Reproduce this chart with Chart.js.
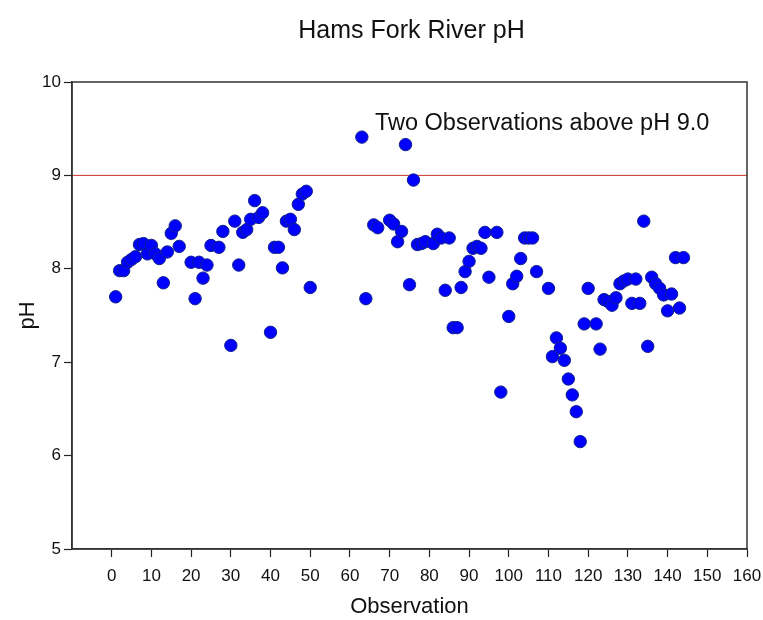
<!DOCTYPE html>
<html>
<head>
<meta charset="utf-8">
<script src="https://cdn.jsdelivr.net/npm/chart.js@4/dist/chart.umd.min.js"></script>
<style>
  html, body { margin: 0; padding: 0; background: #fff; }
  #wrap { width: 763px; height: 620px; }
</style>
</head>
<body>
<div id="wrap"><canvas id="chart"></canvas></div>
<script>
const observations = [
  1, 2, 3, 4, 5, 6, 7, 8, 9, 10, 11, 12, 13, 14, 15, 16, 17,
  20, 21, 22, 23, 24, 25, 27, 28, 30, 31, 32, 33, 34, 35, 36, 37, 38,
  40, 41, 42, 43, 44, 45, 46, 47, 48, 49, 50,
  63, 64, 66, 67, 70, 71, 72, 73, 74, 75, 76, 77, 78, 79, 81, 82, 83, 84, 85,
  86, 87, 88, 89, 90, 91, 92, 93, 94, 95, 97, 98, 100, 101, 102, 103, 104, 105,
  106, 107, 110, 111, 112, 113, 114, 115, 116, 117, 118, 119, 120, 122, 123,
  124, 125, 126, 127, 128, 129, 130, 131, 132, 133, 134, 135, 136, 137, 138,
  139, 140, 141, 142, 143, 144
];
const phValues = [
  7.70, 7.98, 7.98, 8.07, 8.10, 8.13, 8.26, 8.27, 8.16, 8.25, 8.16, 8.11, 7.85, 8.18, 8.38, 8.46, 8.24,
  8.07, 7.68, 8.07, 7.90, 8.04, 8.25, 8.23, 8.40, 7.18, 8.51, 8.04, 8.39, 8.42, 8.53, 8.73, 8.55, 8.60,
  7.32, 8.23, 8.23, 8.01, 8.51, 8.53, 8.42, 8.69, 8.80, 8.83, 7.80,
  9.41, 7.68, 8.47, 8.44, 8.52, 8.48, 8.29, 8.40, 9.33, 7.83, 8.95, 8.26, 8.27, 8.29, 8.27, 8.37, 8.33, 7.77, 8.33,
  7.37, 7.37, 7.80, 7.97, 8.08, 8.22, 8.24, 8.22, 8.39, 7.91, 8.39, 6.68, 7.49, 7.84, 7.92, 8.11, 8.33, 8.33,
  8.33, 7.97, 7.79, 7.06, 7.26, 7.15, 7.02, 6.82, 6.65, 6.47, 6.15, 7.41, 7.79, 7.41, 7.14,
  7.67, 7.65, 7.61, 7.69, 7.84, 7.87, 7.89, 7.63, 7.89, 7.63, 8.51, 7.17, 7.91, 7.84, 7.79,
  7.72, 7.55, 7.73, 8.12, 7.58, 8.12
];
const limitX = [-10, 160];
const limitPH = 9.0;
const xTicks = [0, 10, 20, 30, 40, 50, 60, 70, 80, 90, 100, 110, 120, 130, 140, 150, 160];
const yTicks = [5, 6, 7, 8, 9, 10];
const chartTitle = 'Hams Fork River pH';
const noteText = 'Two Observations above pH 9.0';
const notePos = { x: 66.3, y: 9.56 };

const FONT = "'Liberation Sans', Arial, sans-serif";

const points = observations.map((o, i) => ({ x: o, y: phValues[i] }));

// frame round the plot, chart title and the note
const extras = {
  id: 'extras',
  afterDraw(chart) {
    const { ctx, chartArea: a, scales } = chart;
    ctx.save();
    ctx.strokeStyle = '#333';
    ctx.lineWidth = 1.5;
    ctx.strokeRect(a.left, a.top, a.right - a.left, a.bottom - a.top);
    ctx.fillStyle = '#111';
    ctx.textBaseline = 'middle';
    ctx.textAlign = 'center';
    ctx.font = '25px ' + FONT;
    ctx.fillText(chartTitle, (a.left + a.right) / 2 + 2, 31);
    ctx.textAlign = 'left';
    ctx.font = '23.5px ' + FONT;
    ctx.fillText(noteText, scales.x.getPixelForValue(notePos.x), scales.y.getPixelForValue(notePos.y));
    ctx.restore();
  }
};

new Chart(document.getElementById('chart'), {
  type: 'scatter',
  data: {
    datasets: [
      {
        label: 'pH',
        data: points,
        backgroundColor: '#0000ff',
        borderColor: '#10208a',
        borderWidth: 1,
        pointRadius: 6.2,
        pointHoverRadius: 6.2
      },
      {
        type: 'line',
        label: 'limit',
        data: limitX.map(x => ({ x: x, y: limitPH })),
        borderColor: '#cc3333',
        borderWidth: 1,
        pointRadius: 0,
        fill: false
      }
    ]
  },
  options: {
    responsive: true,
    maintainAspectRatio: false,
    animation: false,
    layout: { padding: { top: 82, right: 16, left: 0, bottom: 0 } },
    plugins: {
      legend: { display: false },
      tooltip: { enabled: false }
    },
    scales: {
      x: {
        type: 'linear',
        min: limitX[0],
        max: limitX[1],
        afterBuildTicks: s => { s.ticks = xTicks.map(v => ({ value: v })); },
        afterFit: s => { s.height = 71; s.paddingLeft = 0; s.paddingRight = 0; },
        grid: { drawOnChartArea: false, tickLength: 8, color: '#222', tickWidth: 1.2 },
        border: { color: '#333', width: 1.5 },
        ticks: { color: '#111', font: { family: FONT, size: 17 }, padding: 9, maxRotation: 0 },
        title: { display: true, text: 'Observation', color: '#111', font: { family: FONT, size: 22 }, padding: { top: 0, bottom: 0 } }
      },
      y: {
        min: 5,
        max: 10,
        afterBuildTicks: s => { s.ticks = yTicks.map(v => ({ value: v })); },
        afterFit: s => { s.width = 72; s.paddingTop = 0; s.paddingBottom = 0; },
        grid: { drawOnChartArea: false, tickLength: 8, color: '#222', tickWidth: 1.2 },
        border: { color: '#333', width: 1.5 },
        ticks: { color: '#111', font: { family: FONT, size: 17 }, padding: 3 },
        title: { display: true, text: 'pH', color: '#111', font: { family: FONT, size: 22 }, padding: { top: 15, bottom: 0 } }
      }
    }
  },
  plugins: [extras]
});
</script>
</body>
</html>
